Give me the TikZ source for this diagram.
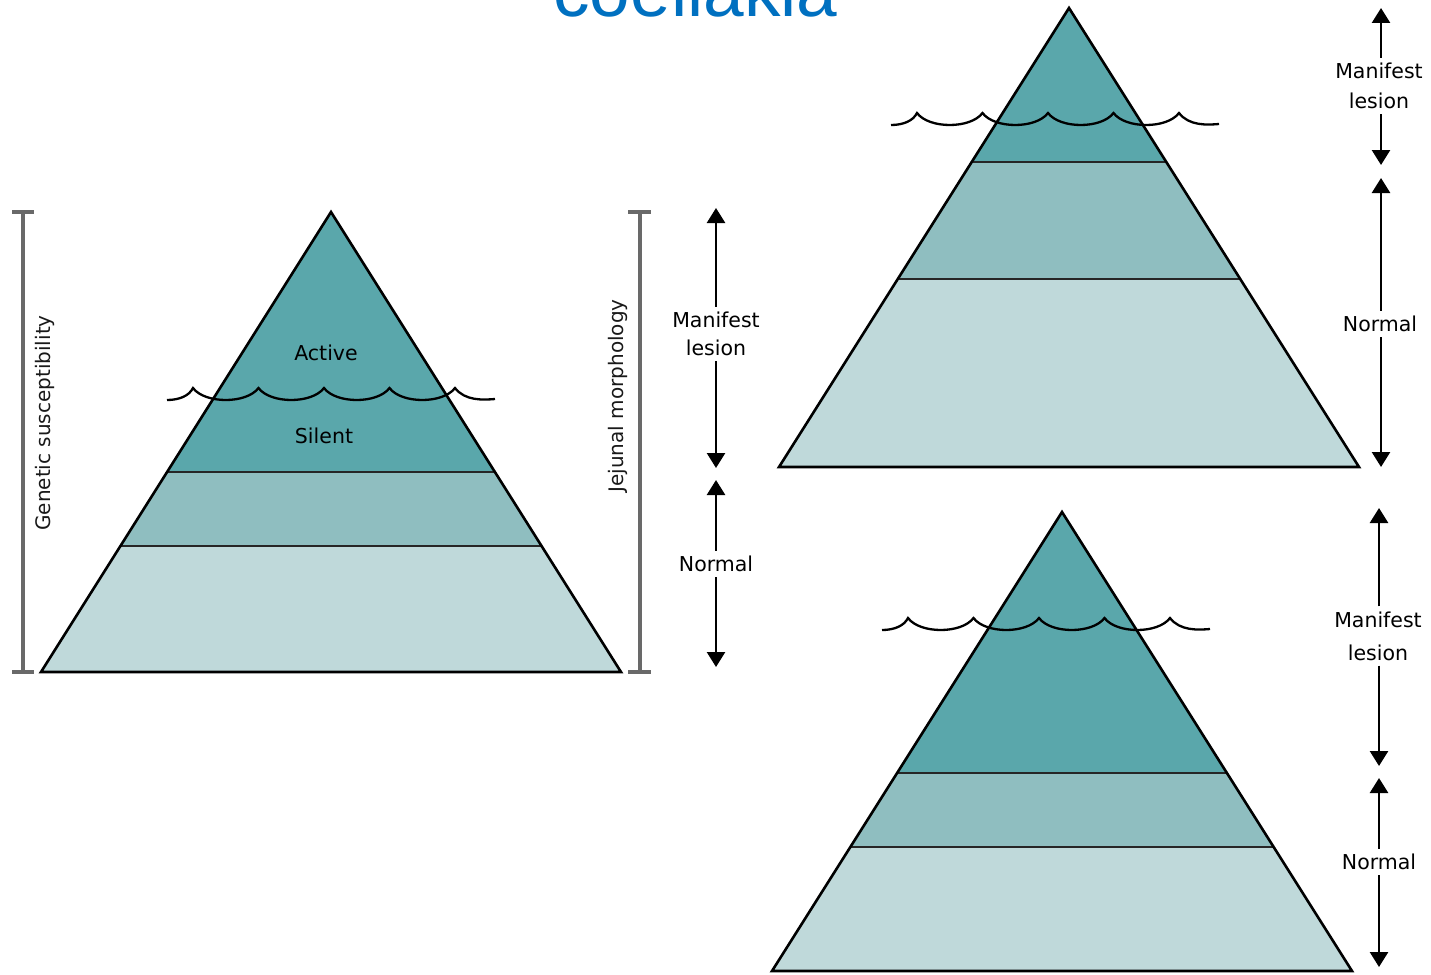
\documentclass[tikz,border=0pt]{standalone}
\usepackage{fontspec}
\setmainfont{DejaVu Sans}
\newfontfamily\titlefont{Liberation Sans}
\usetikzlibrary{arrows.meta}
\definecolor{tealdark}{RGB}{90,167,171}
\definecolor{tealmid}{RGB}{143,190,192}
\definecolor{teallight}{RGB}{191,217,218}
\definecolor{titleblue}{RGB}{0,112,192}
\definecolor{brgray}{RGB}{105,105,105}
\tikzset{
  outline/.style={draw=black,line width=2.6pt,line join=miter},
  divider/.style={draw=black!85,line width=2.2pt},
  wave/.style={draw=black,line width=2.3pt},
  arr/.style={draw=black,line width=2.6pt,-{Triangle[width=18pt,length=15pt]}},
  bracket/.style={draw=brgray,line width=3.2pt},
  lbl/.style={font=\fontsize{20.5}{28}\selectfont,align=center,inner sep=5pt,text=black},
  vlbl/.style={font=\fontsize{20}{24}\selectfont,rotate=90,inner sep=0pt,text=black!90},
  wavepic/.pic={
    \draw[wave] (-26,12) .. controls (-14,12) and (-4,8) .. (0,0)
      .. controls (12,16) and (53.5,16) .. (65.5,0)
      .. controls (77.5,16) and (119,16) .. (131,0)
      .. controls (143,16) and (184.5,16) .. (196.5,0)
      .. controls (208.5,16) and (250,16) .. (262,0)
      .. controls (272,13) and (290,12) .. (302,11);
  }
}
\begin{document}
\begin{tikzpicture}[x=1pt,y=-1pt]
\useasboundingbox (0,0) rectangle (1431,974);
\clip (0,0) rectangle (1431,974);

% title
\node[font=\titlefont\fontsize{73}{80}\selectfont,text=titleblue,anchor=base,inner sep=0pt] (title) at (695.5,17) {coeliakia};

% ---------- left pyramid ----------
\fill[teallight] (41,672) -- (621,672) -- (541.6,546) -- (120.4,546) -- cycle;
\fill[tealmid] (120.4,546) -- (541.6,546) -- (494.9,472) -- (167.1,472) -- cycle;
\fill[tealdark] (167.1,472) -- (494.9,472) -- (331,212) -- cycle;
\draw[divider] (120.4,546) -- (541.6,546);
\draw[divider] (167.1,472) -- (494.9,472);
\draw[outline] (331,212) -- (621,672) -- (41,672) -- cycle;
\pic at (193,388) {wavepic};
\node[lbl] (active) at (326,353) {Active};
\node[lbl] (silent) at (324,436) {Silent};

% brackets
\draw[bracket] (12,212) -- (34,212);
\draw[bracket] (12,672) -- (34,672);
\draw[bracket] (23,212) -- (23,672);
\node[vlbl] (gen) at (45,423) {Genetic susceptibility};
\draw[bracket] (628,212) -- (651,212);
\draw[bracket] (628,672) -- (651,672);
\draw[bracket] (640,212) -- (640,672);
\node[vlbl] (jej) at (618,396) {Jejunal morphology};

% left arrows
\node[lbl] (lm) at (716,334) {Manifest\\lesion};
\node[lbl] (ln) at (716,564) {Normal};
\coordinate (lmt) at (716,208);
\coordinate (lmb) at (716,468);
\coordinate (lnt) at (716,480);
\coordinate (lnb) at (716,667);
\draw[arr] (lm.north) -- (lmt);
\draw[arr] (lm.south) -- (lmb);
\draw[arr] (ln.north) -- (lnt);
\draw[arr] (ln.south) -- (lnb);

% ---------- top-right pyramid ----------
\fill[teallight] (779,467) -- (1359,467) -- (1240.2,279) -- (897.8,279) -- cycle;
\fill[tealmid] (897.8,279) -- (1240.2,279) -- (1166.3,162) -- (971.7,162) -- cycle;
\fill[tealdark] (971.7,162) -- (1166.3,162) -- (1069,8) -- cycle;
\draw[divider] (897.8,279) -- (1240.2,279);
\draw[divider] (971.7,162) -- (1166.3,162);
\draw[outline] (1069,8) -- (1359,467) -- (779,467) -- cycle;
\pic at (917,113) {wavepic};

\node[lbl,font=\fontsize{20.5}{30}\selectfont] (tm) at (1379,86) {Manifest\\lesion};
\node[lbl] (tn) at (1380,324) {Normal};
\coordinate (tmt) at (1381,8);
\coordinate (tmb) at (1381,165);
\coordinate (tnt) at (1381,178);
\coordinate (tnb) at (1381,467);
\draw[arr] (tm.north -| tmt) -- (tmt);
\draw[arr] (tm.south -| tmb) -- (tmb);
\draw[arr] (tn.north -| tnt) -- (tnt);
\draw[arr] (tn.south -| tnb) -- (tnb);

% ---------- bottom-right pyramid ----------
\fill[teallight] (772,971) -- (1352,971) -- (1273.7,847) -- (850.3,847) -- cycle;
\fill[tealmid] (850.3,847) -- (1273.7,847) -- (1226.9,773) -- (897.1,773) -- cycle;
\fill[tealdark] (897.1,773) -- (1226.9,773) -- (1062,512) -- cycle;
\draw[divider] (850.3,847) -- (1273.7,847);
\draw[divider] (897.1,773) -- (1226.9,773);
\draw[outline] (1062,512) -- (1352,971) -- (772,971) -- cycle;
\pic at (908,618) {wavepic};

\node[lbl,font=\fontsize{20.5}{33}\selectfont] (bm) at (1378,636) {Manifest\\lesion};
\node[lbl] (bn) at (1379,862) {Normal};
\coordinate (bmt) at (1379,508);
\coordinate (bmb) at (1379,766);
\coordinate (bnt) at (1379,778);
\coordinate (bnb) at (1379,967);
\draw[arr] (bm.north -| bmt) -- (bmt);
\draw[arr] (bm.south -| bmb) -- (bmb);
\draw[arr] (bn.north -| bnt) -- (bnt);
\draw[arr] (bn.south -| bnb) -- (bnb);
\end{tikzpicture}
\end{document}
